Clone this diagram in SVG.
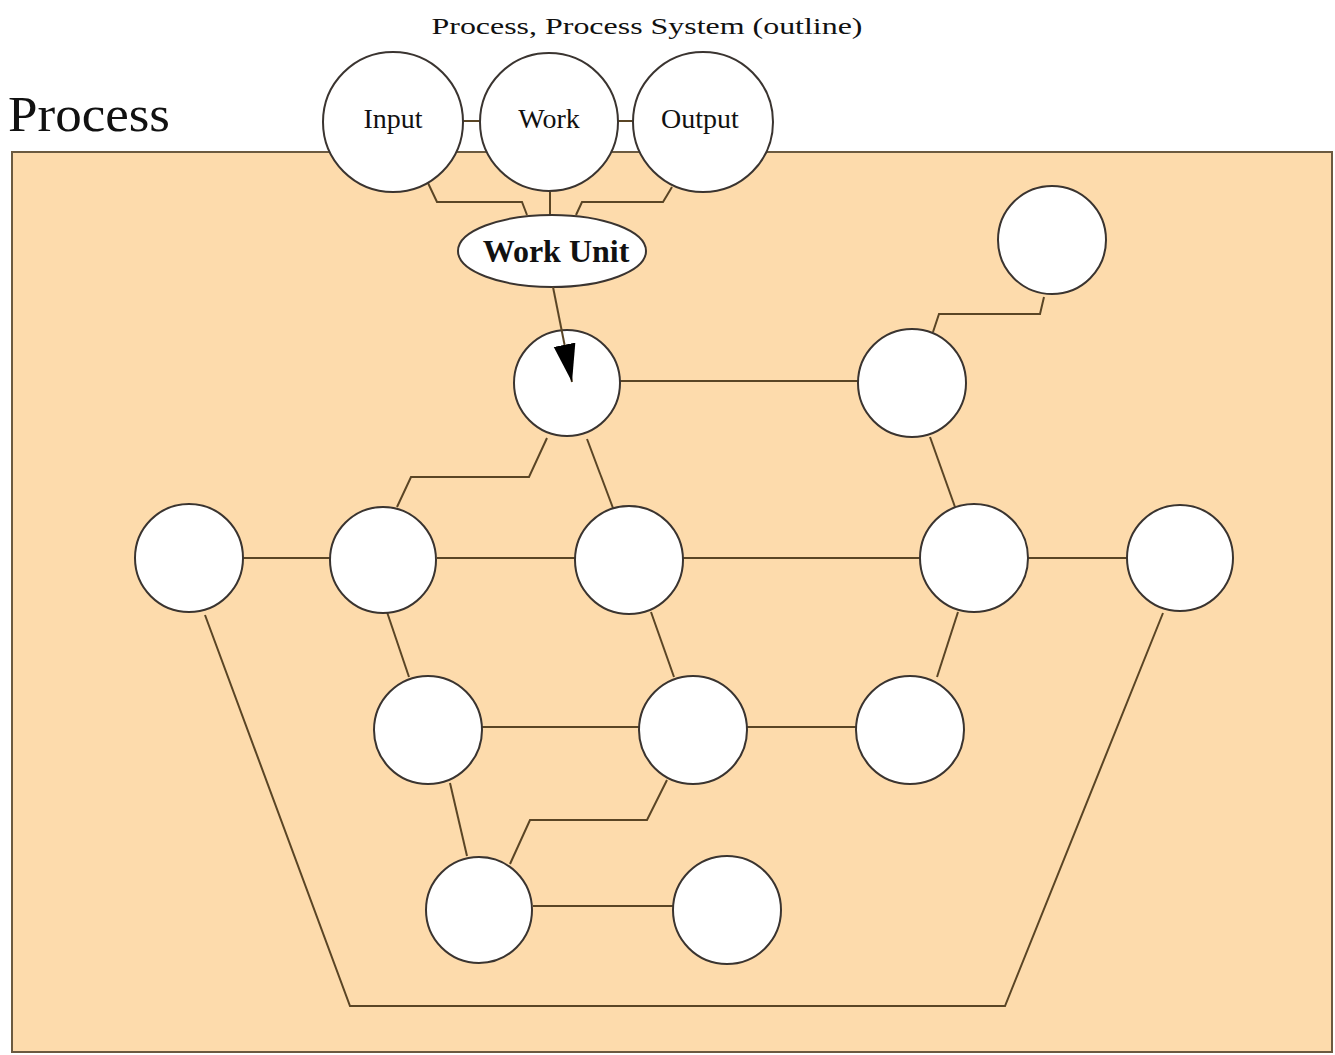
<svg xmlns="http://www.w3.org/2000/svg" width="1335" height="1055" viewBox="0 0 1335 1055">
  <style>
    .node { fill: #ffffff; stroke: #3a3430; stroke-width: 2; }
    .wire { fill: none; stroke: #5a4525; stroke-width: 2; }
    .lbl { font-family: "Liberation Serif", "Times New Roman", serif; fill: #111; }
  </style>
  <defs>
    <marker id="arrow" markerUnits="userSpaceOnUse" markerWidth="40" markerHeight="26" refX="38" refY="11" orient="auto">
      <path d="M0,0 L38,11 L0,22 Z" fill="#000"/>
    </marker>
  </defs>
  <rect width="1335" height="1055" fill="#ffffff"/>

  <!-- titles -->
  <text class="lbl" x="647" y="34" font-size="24" text-anchor="middle" textLength="431" lengthAdjust="spacingAndGlyphs">Process, Process System (outline)</text>
  <text class="lbl" x="8" y="131" font-size="50" textLength="162" lengthAdjust="spacingAndGlyphs">Process</text>

  <!-- process area -->
  <rect x="12" y="152" width="1320" height="900" fill="#fddbac" stroke="#6b5a40" stroke-width="2"/>

  <!-- connectors -->
  <g id="connectors">
    <line class="wire" x1="463" y1="121" x2="480" y2="121"/>
    <line class="wire" x1="618" y1="121" x2="633" y2="121"/>
    <polyline class="wire" points="428,183 437,202 522,202 527,215"/>
    <line class="wire" x1="550" y1="192" x2="550" y2="215"/>
    <polyline class="wire" points="672,187 663,202 582,202 576,215"/>
    <line class="wire" x1="620" y1="381" x2="858" y2="381" stroke-width="3"/>
    <polyline class="wire" points="933,332 939,314 1040,314 1044,297"/>
    <polyline class="wire" points="547,438 529,477 411,477 397,507"/>
    <line class="wire" x1="587" y1="439" x2="613" y2="508"/>
    <line class="wire" x1="930" y1="437" x2="955" y2="507"/>
    <line class="wire" x1="243" y1="558" x2="331" y2="558"/>
    <line class="wire" x1="437" y1="558" x2="576" y2="558"/>
    <line class="wire" x1="683" y1="558" x2="921" y2="558"/>
    <line class="wire" x1="1028" y1="558" x2="1128" y2="558"/>
    <line class="wire" x1="387" y1="612" x2="409" y2="677"/>
    <line class="wire" x1="651" y1="612" x2="674" y2="677"/>
    <line class="wire" x1="958" y1="612" x2="937" y2="677"/>
    <line class="wire" x1="482" y1="727" x2="640" y2="727"/>
    <line class="wire" x1="746" y1="727" x2="857" y2="727"/>
    <line class="wire" x1="450" y1="783" x2="467" y2="856"/>
    <polyline class="wire" points="667,780 647,820 530,820 510,864"/>
    <line class="wire" x1="533" y1="906" x2="673" y2="906"/>
    <polyline class="wire" points="205,615 350,1006 1005,1006 1163,613"/>
  </g>

  <!-- input / work / output -->
  <g id="input">
    <circle class="node" cx="393" cy="122" r="70"/>
    <text class="lbl" x="393" y="128" font-size="28" text-anchor="middle">Input</text>
  </g>
  <g id="work">
    <circle class="node" cx="549" cy="122" r="69"/>
    <text class="lbl" x="549" y="128" font-size="28" text-anchor="middle">Work</text>
  </g>
  <g id="output">
    <circle class="node" cx="703" cy="122" r="70"/>
    <text class="lbl" x="700" y="128" font-size="28" text-anchor="middle">Output</text>
  </g>
  <g id="work-unit">
    <ellipse class="node" cx="552" cy="251" rx="94" ry="36"/>
    <text class="lbl" x="556" y="262" font-size="32" font-weight="bold" text-anchor="middle">Work Unit</text>
  </g>

  <!-- unit network -->
  <g id="n-entry"><circle class="node" cx="567" cy="383" r="53"/></g>
  <g id="n-upper-right"><circle class="node" cx="912" cy="383" r="54"/></g>
  <g id="n-top-right"><circle class="node" cx="1052" cy="240" r="54"/></g>
  <g id="n-r3-a"><circle class="node" cx="189" cy="558" r="54"/></g>
  <g id="n-r3-b"><circle class="node" cx="383" cy="560" r="53"/></g>
  <g id="n-r3-c"><circle class="node" cx="629" cy="560" r="54"/></g>
  <g id="n-r3-d"><circle class="node" cx="974" cy="558" r="54"/></g>
  <g id="n-r3-e"><circle class="node" cx="1180" cy="558" r="53"/></g>
  <g id="n-r4-a"><circle class="node" cx="428" cy="730" r="54"/></g>
  <g id="n-r4-b"><circle class="node" cx="693" cy="730" r="54"/></g>
  <g id="n-r4-c"><circle class="node" cx="910" cy="730" r="54"/></g>
  <g id="n-r5-a"><circle class="node" cx="479" cy="910" r="53"/></g>
  <g id="n-r5-b"><circle class="node" cx="727" cy="910" r="54"/></g>

  <!-- work unit feed: drawn over the entry node so the head shows inside it -->
  <g id="connector-feed">
    <line class="wire" x1="553" y1="287" x2="572" y2="382" marker-end="url(#arrow)"/>
  </g>
</svg>
